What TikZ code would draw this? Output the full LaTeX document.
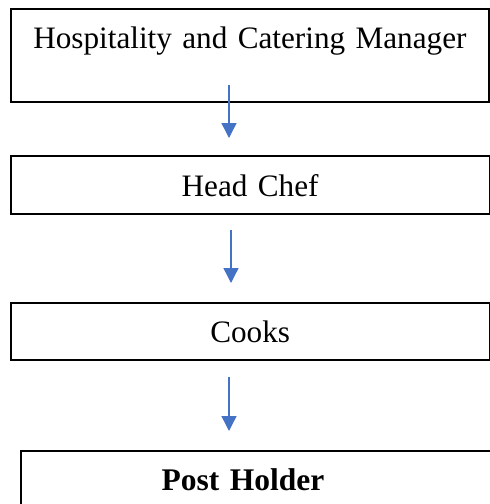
\documentclass[tikz,border=0pt]{standalone}
\usepackage{fontspec}
\setmainfont{Liberation Serif}
\usetikzlibrary{arrows.meta}
\definecolor{arrowblue}{RGB}{68,114,196}
\begin{document}
\begin{tikzpicture}[x=1pt,y=-1pt,
  box/.style={draw=black,line width=1.8pt,inner sep=0pt,anchor=north west,align=center,
    font=\fontsize{31.2}{38}\selectfont},
  link/.style={draw=arrowblue,line width=1.4pt,-{Triangle[width=15pt,length=15pt]}}]
\useasboundingbox (0,0) rectangle (490,504);
\node[box,text width=478pt,text height=40pt,text depth=53pt] (mgr) at (10,8) {Hospitality and Catering Manager};
\node[box,text width=478.5pt,text height=41pt,text depth=17pt] (chef) at (10,155) {Head Chef};
\node[box,text width=478.5pt,text height=40pt,text depth=17pt] (cooks) at (10,302) {Cooks};
\node[box,text width=480pt,text height=40pt,text depth=30pt,font=\fontsize{31.5}{38}\selectfont\bfseries] (post) at (20,450) {Post Holder\rule{36pt}{0pt}};
\coordinate (a1s) at (229,85);
\coordinate (a1e) at (229,138);
\coordinate (a2s) at (231,230);
\coordinate (a2e) at (231,283);
\coordinate (a3s) at (229,377);
\coordinate (a3e) at (229,431);
\draw[link] (a1s) -- (a1e);
\draw[link] (a2s) -- (a2e);
\draw[link] (a3s) -- (a3e);
\end{tikzpicture}
\end{document}
